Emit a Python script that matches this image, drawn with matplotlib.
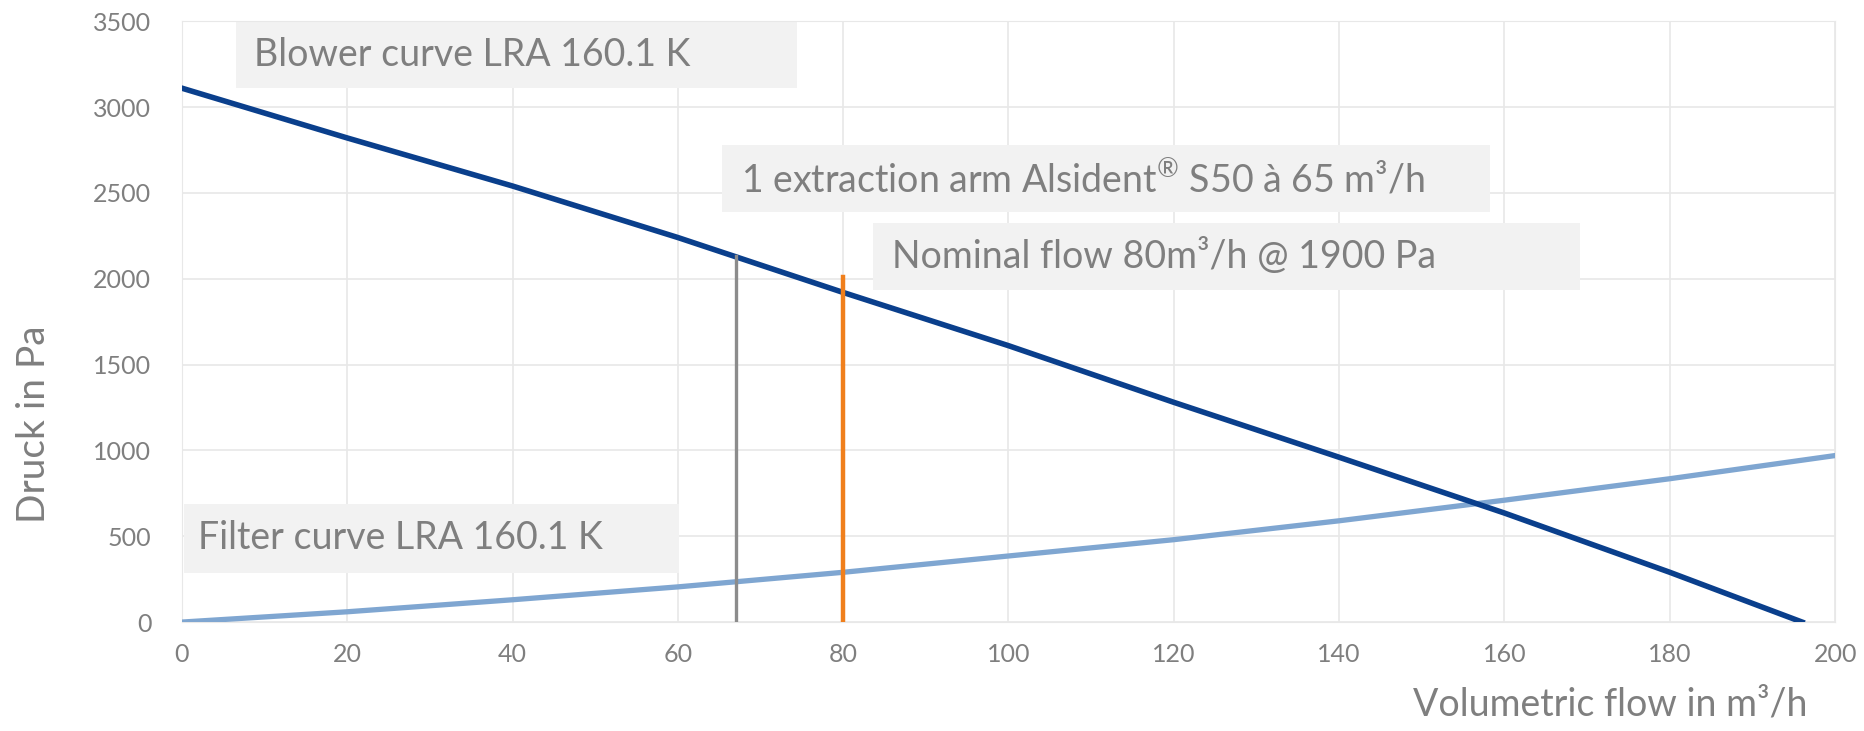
import matplotlib.pyplot as plt
from matplotlib.patches import Rectangle

plt.rcParams['font.family'] = ['Lato', 'DejaVu Sans']
plt.rcParams['mathtext.fontset'] = 'custom'
plt.rcParams['mathtext.rm'] = 'Lato'

# volumetric flow (m³/h) and pressure (Pa)
blower_x = [0, 20, 40, 60, 80, 100, 120, 140, 160, 180, 196]
blower_y = [3110, 2820, 2540, 2240, 1920, 1610, 1280, 960, 635, 290, 0]

filter_x = [0, 20, 40, 60, 80, 100, 120, 140, 160, 180, 200]
filter_y = [0, 60, 130, 205, 290, 385, 480, 590, 710, 835, 970]

arm_flow = 67
arm_top = 2130
nominal_flow = 80
nominal_top = 2010

text_grey = '#7f7f7f'

fig = plt.figure(figsize=(18.65, 7.31), dpi=100)
ax = fig.add_axes([0.0975, 0.149, 0.8865, 0.822])

ax.plot(blower_x, blower_y, color='#0a3f8c', lw=4.0, zorder=4)
ax.plot(filter_x, filter_y, color='#7fa6d1', lw=3.8, zorder=3)
ax.plot([arm_flow, arm_flow], [0, arm_top], color='#8c8c8c', lw=2.4, zorder=5)
ax.plot([nominal_flow, nominal_flow], [0, nominal_top], color='#f07f1c', lw=3.2, zorder=5)

ax.set_xlim(0, 200)
ax.set_ylim(0, 3500)
ax.set_xticks(range(0, 201, 20))
ax.set_yticks(range(0, 3501, 500))
ax.grid(True, color='#e8e8e8', lw=1.2)
ax.set_axisbelow(True)
for s in ax.spines.values():
    s.set_color('#e8e8e8')
ax.tick_params(length=0, labelsize=18, colors=text_grey)
ax.tick_params(axis='x', pad=15)
ax.tick_params(axis='y', pad=22)

fig.text(0.969, 0.012, 'Volumetric flow in m³/h', ha='right', va='bottom',
         fontsize=27, color=text_grey)
fig.text(0.018, 0.42, 'Druck in Pa', rotation=90, ha='center', va='center',
         fontsize=28, color=text_grey)

# annotation boxes
boxes = [
    (6.5, 3110, 67.9, 390, 8.7, 3305, 'Blower curve LRA 160.1 K'),
    (65.4, 2387, 92.9, 389, 67.7, 2582,
     r'1 extraction arm Alsident$^{\mathrm{®}}$ S50 à 65 m³/h'),
    (83.6, 1934, 85.5, 390, 85.9, 2129, 'Nominal flow 80m³/h @ 1900 Pa'),
    (0.3, 285, 59.8, 404, 1.9, 487, 'Filter curve LRA 160.1 K'),
]
for bx, by, bw, bh, tx, ty, txt in boxes:
    ax.add_patch(Rectangle((bx, by), bw, bh, facecolor='#f2f2f2',
                           edgecolor='none', zorder=2))
    ax.text(tx, ty, txt, fontsize=27, color=text_grey, va='center',
            ha='left', zorder=6)

fig.savefig('out.png', dpi=100)
